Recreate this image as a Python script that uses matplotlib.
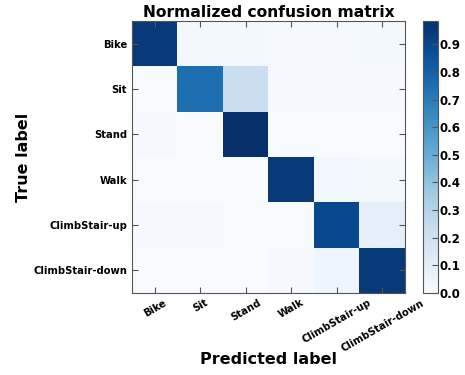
import matplotlib
matplotlib.use("Agg")
import matplotlib.pyplot as plt
import numpy as np

classes = ["Bike", "Sit", "Stand", "Walk", "ClimbStair-up", "ClimbStair-down"]
row_bike = [0.95, 0.02, 0.02, 0.01, 0.01, 0.02]
row_sit = [0.00, 0.75, 0.22, 0.01, 0.01, 0.01]
row_stand = [0.01, 0.00, 0.985, 0.00, 0.00, 0.00]
row_walk = [0.00, 0.00, 0.00, 0.95, 0.03, 0.02]
row_up = [0.01, 0.01, 0.00, 0.00, 0.89, 0.09]
row_down = [0.00, 0.00, 0.00, 0.01, 0.04, 0.95]
cm = np.array([row_bike, row_sit, row_stand, row_walk, row_up, row_down])

fig = plt.figure(figsize=(4.65, 3.75), dpi=100)
ax = fig.add_axes([0.284, 0.219, 0.587, 0.725])
im = ax.imshow(cm, interpolation="nearest", cmap=plt.cm.Blues, aspect="auto",
               vmin=0, vmax=cm.max())
ax.set_title("Normalized confusion matrix", fontsize=11.2, fontweight="bold", pad=3)
ticks = np.arange(len(classes))
ax.set_xticks(ticks)
ax.set_yticks(ticks)
ax.set_xticklabels(classes, rotation=30, fontsize=7.2, fontweight="bold", ha="center")
ax.set_yticklabels(classes, fontsize=7.2, fontweight="bold")
ax.tick_params(direction="in", top=True, right=True, length=4, color="#555555")
for s in ax.spines.values():
    s.set_color("#555555")
ax.set_ylabel("True label", fontsize=11.5, fontweight="bold", labelpad=2)
ax.set_xlabel("Predicted label", fontsize=11.5, fontweight="bold", labelpad=-1)

cax = fig.add_axes([0.910, 0.219, 0.032, 0.725])
cb = fig.colorbar(im, cax=cax, ticks=np.arange(0, 1.0, 0.1))
cb.ax.set_yticklabels(["%.1f" % t for t in np.arange(0, 1.0, 0.1)], fontsize=8.5, fontweight="bold")
cb.ax.tick_params(direction="in", length=4, color="#555555", pad=1)
cb.outline.set_edgecolor("#555555")

fig.savefig("out.png", dpi=100)
